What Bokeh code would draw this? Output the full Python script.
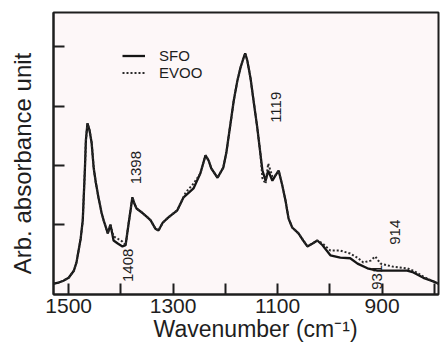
import math

from bokeh.core.properties import value
from bokeh.embed import file_html
from bokeh.models import FixedTicker, Legend, LegendItem, Range1d
from bokeh.plotting import figure
from bokeh.resources import INLINE

# FTIR spectra of the two oils (wavenumber in cm-1, arbitrary absorbance)
sfo_wn = [1529, 1519, 1510, 1500, 1490, 1485, 1481, 1477, 1473, 1471, 1469, 1467,
          1464, 1460, 1456, 1452, 1448, 1443, 1437, 1433, 1425, 1420, 1414, 1406,
          1397, 1391, 1385, 1381, 1378, 1374, 1370, 1358, 1349, 1343, 1334, 1328,
          1320, 1309, 1292, 1280, 1261, 1248, 1238, 1232, 1227, 1215, 1204, 1198,
          1194, 1188, 1184, 1177, 1171, 1165, 1162, 1158, 1152, 1146, 1139, 1133,
          1129, 1123, 1118, 1110, 1104, 1098, 1091, 1085, 1079, 1072, 1060, 1051,
          1043, 1033, 1024, 1014, 999, 980, 961, 947, 928, 909, 880, 852, 840, 821,
          802, 792]
sfo_abs = [0.00, 0.02, 0.05, 0.10, 0.22, 0.36, 0.56, 0.76, 1.07, 1.49, 1.91, 2.42,
           2.71, 2.59, 2.38, 1.95, 1.71, 1.46, 1.20, 1.07, 0.85, 1.00, 0.73, 0.68,
           0.63, 0.65, 1.03, 1.27, 1.46, 1.35, 1.27, 1.19, 1.12, 1.07, 0.93, 0.90,
           1.03, 1.12, 1.24, 1.46, 1.61, 1.86, 2.17, 2.08, 1.95, 1.79, 1.96, 2.22,
           2.47, 2.84, 3.09, 3.43, 3.65, 3.82, 3.89, 3.77, 3.48, 3.09, 2.64, 2.20,
           1.91, 1.74, 1.91, 1.74, 1.83, 1.91, 1.66, 1.41, 1.10, 0.95, 0.85, 0.73,
           0.63, 0.68, 0.73, 0.65, 0.48, 0.44, 0.43, 0.34, 0.26, 0.22, 0.22, 0.22,
           0.19, 0.10, 0.04, 0.00]

evoo_wn = [1529, 1519, 1510, 1500, 1490, 1485, 1481, 1477, 1473, 1471, 1469, 1467,
           1464, 1460, 1456, 1452, 1448, 1443, 1437, 1433, 1425, 1420, 1414, 1406,
           1397, 1391, 1385, 1381, 1378, 1374, 1370, 1358, 1349, 1343, 1334, 1328,
           1320, 1309, 1292, 1276, 1261, 1248, 1238, 1232, 1227, 1215, 1204, 1198,
           1194, 1188, 1184, 1177, 1171, 1165, 1162, 1158, 1152, 1146, 1139, 1133,
           1129, 1123, 1118, 1110, 1104, 1098, 1091, 1085, 1079, 1072, 1060, 1051,
           1043, 1033, 1024, 1014, 999, 980, 961, 947, 936, 922, 913, 903, 880, 852,
           840, 821, 802, 792]
evoo_abs = [0.00, 0.02, 0.05, 0.10, 0.22, 0.36, 0.56, 0.76, 1.07, 1.49, 1.91, 2.42,
            2.71, 2.59, 2.38, 1.95, 1.71, 1.46, 1.20, 1.07, 0.85, 1.00, 0.80, 0.76,
            0.71, 0.65, 1.03, 1.27, 1.46, 1.35, 1.27, 1.19, 1.12, 1.07, 0.93, 0.90,
            1.03, 1.12, 1.24, 1.54, 1.69, 1.86, 2.17, 2.08, 1.95, 1.79, 1.96, 2.22,
            2.47, 2.84, 3.09, 3.43, 3.65, 3.82, 3.89, 3.77, 3.48, 3.09, 2.64, 2.20,
            1.78, 1.69, 2.03, 1.81, 1.83, 1.91, 1.66, 1.41, 1.10, 0.95, 0.85, 0.73,
            0.63, 0.68, 0.73, 0.68, 0.56, 0.56, 0.51, 0.44, 0.36, 0.39, 0.46, 0.34,
            0.29, 0.26, 0.22, 0.12, 0.04, 0.00]

# Band annotations: label, wavenumber, height
band_labels = ["1398", "1408", "1119", "914", "931"]
band_wn = [1372, 1386, 1104, 875, 909]
band_y = [1.96, 0.31, 2.98, 0.87, 0.11]

# Labelled ticks every 200 cm-1, unlabelled ticks in between
x_label_ticks = [900, 1100, 1300, 1500]
x_plain_ticks = [800, 1000, 1200, 1400]
y_plain_ticks = [1, 2, 3, 4]

FONT = "Liberation Sans"
INK = "#1e1e1e"
NBSP = "\u00a0"

p = figure(
    width=440, height=349,
    frame_width=385, frame_height=282,
    min_border_left=53, min_border_right=2, min_border_top=12, min_border_bottom=55,
    x_range=Range1d(1529, 792), y_range=Range1d(-0.182, 4.581),
    output_backend="svg", toolbar_location=None,
)
p.background_fill_color = "#fdf7f8"
p.border_fill_color = "white"
p.outline_line_color = INK
p.outline_line_width = 2
p.grid.visible = False

sfo = p.line(sfo_wn, sfo_abs, line_color="#151515", line_width=2.3)
evoo = p.line(evoo_wn, evoo_abs, line_color="#2a2a2a", line_width=2.0,
              line_dash="2 2")

p.text(x=band_wn, y=band_y, text=band_labels, angle=math.pi / 2,
       text_align="center", text_baseline="middle",
       text_font=value(FONT), text_font_size="15px", text_color=INK)

legend = Legend(
    items=[LegendItem(label="SFO", renderers=[sfo]),
           LegendItem(label="EVOO", renderers=[evoo])],
    location=(69, 213), orientation="vertical",
    glyph_width=23, glyph_height=17, label_height=17, label_standoff=14,
    spacing=0, padding=0, margin=0,
    border_line_alpha=0, background_fill_alpha=0,
    label_text_font=FONT, label_text_font_size="15px", label_text_color=INK,
)
p.add_layout(legend)

xa = p.xaxis[0]
xa.ticker = FixedTicker(ticks=x_label_ticks, minor_ticks=x_plain_ticks)
for attr in ("major", "minor"):
    setattr(xa, f"{attr}_tick_in", 11)
    setattr(xa, f"{attr}_tick_out", 0)
    setattr(xa, f"{attr}_tick_line_width", 2)
    setattr(xa, f"{attr}_tick_line_color", INK)
xa.axis_line_width = 2
xa.axis_line_color = INK
xa.major_label_standoff = 4
xa.major_label_text_font = FONT
xa.major_label_text_font_size = "21px"
xa.major_label_text_color = INK
xa.axis_label = NBSP * 3 + "Wavenumber (cm\u207b\u00b9)"
xa.axis_label_standoff = 0
xa.axis_label_text_font = FONT
xa.axis_label_text_font_size = "23px"
xa.axis_label_text_font_style = "normal"
xa.axis_label_text_color = INK

ya = p.yaxis[0]
ya.ticker = FixedTicker(ticks=[], minor_ticks=y_plain_ticks)
ya.minor_tick_in = 11
ya.minor_tick_out = 0
ya.minor_tick_line_width = 2
ya.minor_tick_line_color = INK
ya.axis_line_width = 2
ya.axis_line_color = INK
ya.axis_label = "Arb. absorbance unit" + NBSP * 3
ya.axis_label_standoff = 18
ya.axis_label_text_font = FONT
ya.axis_label_text_font_size = "24px"
ya.axis_label_text_font_style = "normal"
ya.axis_label_text_color = INK

open("out.html", "w").write(file_html(p, INLINE))
